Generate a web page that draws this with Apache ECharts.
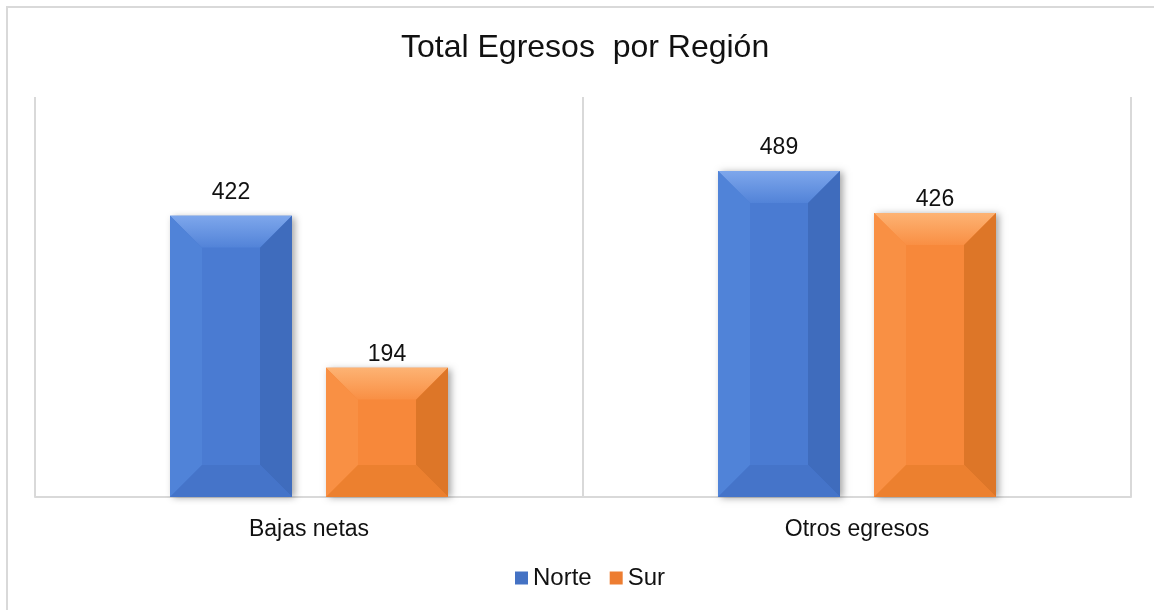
<!DOCTYPE html>
<html>
<head>
<meta charset="utf-8">
<script src="https://cdn.jsdelivr.net/npm/echarts@6/dist/echarts.min.js"></script>
<style>
  html, body { margin: 0; padding: 0; background: #fff; }
  #frame {
    position: absolute; left: 6px; top: 6px; width: 1160px; height: 620px;
    border-left: 2px solid #d9d9d9; border-top: 2px solid #d9d9d9;
    box-sizing: border-box;
  }
  #chart { position: absolute; left: 0; top: 0; width: 1154px; height: 610px; }
</style>
</head>
<body>
<div id="frame"></div>
<div id="chart"></div>
<script>
const categories = ['Bajas netas', 'Otros egresos'];
const seriesNames = ['Norte', 'Sur'];
const norteValues = [422, 489];
const surValues = [194, 426];

// bevel shades per series: face, top (light -> dark), left, right, bottom
const shades = {
  Norte: { face: '#4a7bd2', top: ['#7ea7ec', '#5283d8'], left: '#5083d8', right: '#3f6cbd', bottom: '#4574c9' },
  Sur: { face: '#f7883a', top: ['#fdb374', '#f98f44'], left: '#f99044', right: '#dd7628', bottom: '#ec802f' }
};

const barW = 122, barGap = 34, bevel = 32;
const labelGap = { Norte: 12, Sur: 2 };
const font = 'Liberation Sans, Arial, sans-serif';

function makeRender(name, idx) {
  const c = shades[name];
  return function (params, api) {
    const cat = api.value(0);
    const val = api.value(1);
    const top = api.coord([cat, val]);
    const base = api.coord([cat, 0]);
    const cx = top[0] + (idx === 0 ? -(barW + barGap) / 2 : (barW + barGap) / 2);
    const x0 = cx - barW / 2, x1 = cx + barW / 2;
    const y0 = top[1], y1 = base[1];
    const b = Math.min(bevel, (y1 - y0) / 2, barW / 2);
    const ix0 = x0 + b, ix1 = x1 - b, iy0 = y0 + b, iy1 = y1 - b;
    const topFill = new echarts.graphic.LinearGradient(0, 0, 0, 1, [
      { offset: 0, color: c.top[0] }, { offset: 1, color: c.top[1] }
    ]);
    return {
      type: 'group',
      children: [
        { type: 'rect', shape: { x: x0, y: y0, width: barW, height: y1 - y0 },
          style: { fill: c.face, shadowBlur: 7, shadowOffsetX: 3, shadowOffsetY: 1, shadowColor: 'rgba(0,0,0,0.35)' } },
        { type: 'polygon', shape: { points: [[x0, y0], [x1, y0], [ix1, iy0], [ix0, iy0]] }, style: { fill: topFill } },
        { type: 'polygon', shape: { points: [[x0, y0], [ix0, iy0], [ix0, iy1], [x0, y1]] }, style: { fill: c.left } },
        { type: 'polygon', shape: { points: [[x1, y0], [x1, y1], [ix1, iy1], [ix1, iy0]] }, style: { fill: c.right } },
        { type: 'polygon', shape: { points: [[x0, y1], [ix0, iy1], [ix1, iy1], [x1, y1]] }, style: { fill: c.bottom } },
        { type: 'rect', shape: { x: ix0, y: iy0, width: ix1 - ix0, height: iy1 - iy0 }, style: { fill: c.face } },
        { type: 'text', style: { text: String(val), x: cx, y: y0 - labelGap[name], align: 'center', verticalAlign: 'bottom',
          fontSize: 23, fontFamily: font, fill: '#111' } }
      ]
    };
  };
}

const chart = echarts.init(document.getElementById('chart'));
chart.setOption({
  animation: false,
  title: {
    text: 'Total Egresos  por Región',
    left: 396,
    top: 27,
    textStyle: { fontSize: 32, fontWeight: 'normal', color: '#111', fontFamily: font }
  },
  legend: {
    data: seriesNames,
    bottom: 15,
    left: 510,
    icon: 'rect',
    itemWidth: 13,
    itemHeight: 13,
    itemGap: 18,
    textStyle: { fontSize: 24, color: '#111', fontFamily: font }
  },
  grid: { left: 35, right: 23, top: 97, bottom: 113 },
  xAxis: {
    type: 'category',
    data: categories,
    axisLine: { lineStyle: { color: '#d9d9d9', width: 2 } },
    axisTick: { show: false },
    splitLine: { show: true, lineStyle: { color: '#d9d9d9', width: 2 } },
    axisLabel: { fontSize: 23, color: '#111', margin: 21, fontFamily: font }
  },
  yAxis: {
    type: 'value',
    min: 0,
    max: 600,
    show: false,
    splitLine: { show: false }
  },
  series: [
    {
      name: 'Norte', type: 'custom', itemStyle: { color: '#4472c4' },
      data: norteValues.map((v, i) => [i, v]),
      encode: { x: 0, y: 1 },
      renderItem: makeRender('Norte', 0)
    },
    {
      name: 'Sur', type: 'custom', itemStyle: { color: '#ed7d31' },
      data: surValues.map((v, i) => [i, v]),
      encode: { x: 0, y: 1 },
      renderItem: makeRender('Sur', 1)
    }
  ]
});
</script>
</body>
</html>
